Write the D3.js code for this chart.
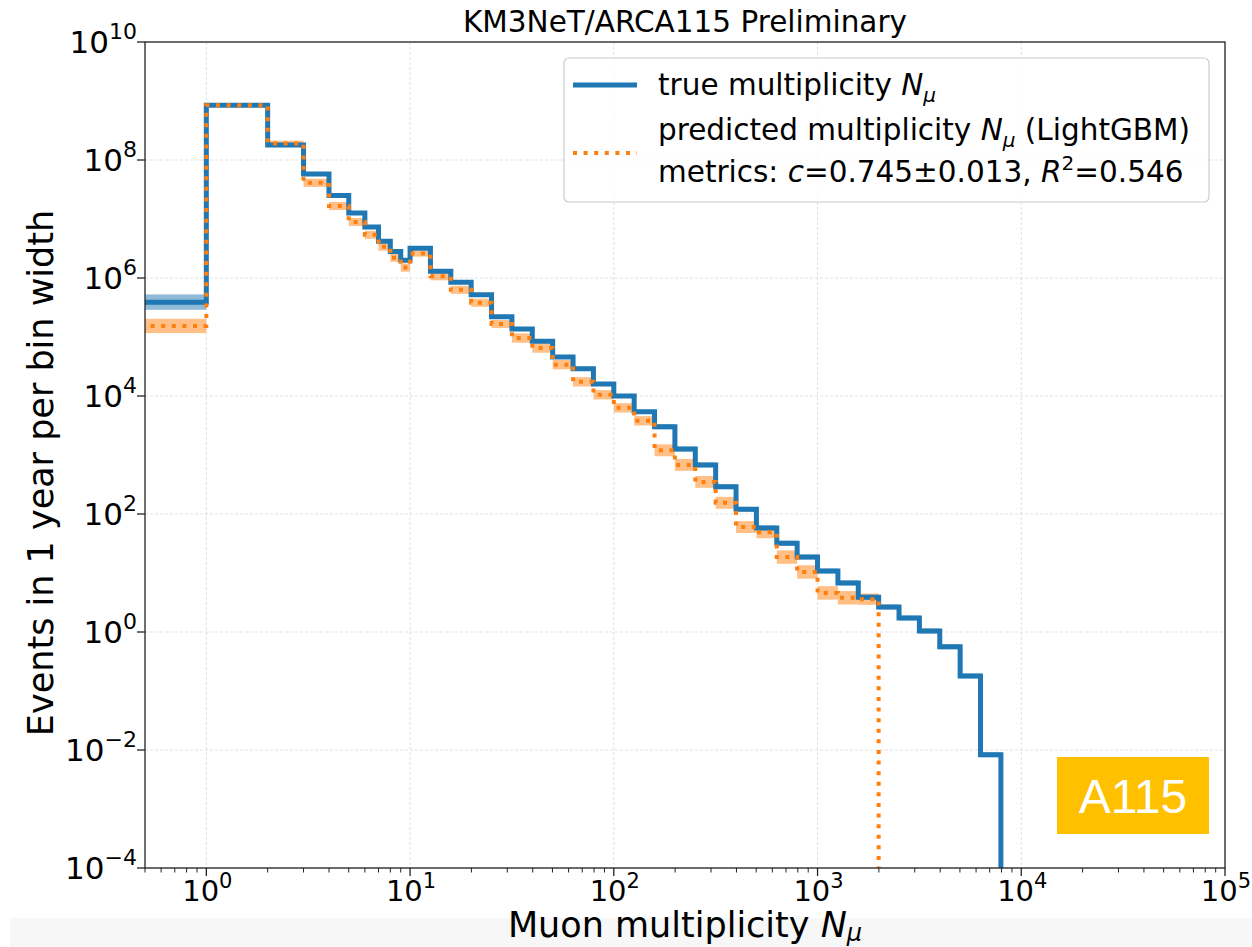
<!DOCTYPE html>
<html><head><meta charset="utf-8">
<script src="https://cdn.jsdelivr.net/npm/d3@7"></script>
<style>
body{margin:0;background:#fff;}
text{font-family:"DejaVu Sans",sans-serif;}
</style></head>
<body><svg id="c" width="1252" height="947"></svg>
<script>
// ---- data ----
const binEdges = [0.5,1,2,3,4,5,6,7,8,9,10,12.59,15.85,19.95,25.12,31.62,39.81,50.12,63.10,79.43,
  100,125.9,158.5,199.5,251.2,316.2,398.1,501.2,631.0,794.3,1000,1259,1585,1995,2512,3162,3981,5012,6310,7943];
const trueCounts = [3.9e5,8.5e8,1.8e8,5.8e7,2.5e7,1.26e7,7.3e6,4.2e6,2.8e6,2.0e6,3.2e6,1.3e6,8.5e5,5.2e5,2.2e5,
  1.37e5,8.5e4,4.6e4,2.9e4,1.6e4,1.0e4,5.4e3,3.0e3,1.26e3,6.8e2,2.9e2,1.2e2,58,32,18.6,10.8,6.8,3.9,2.65,1.73,1.04,0.56,0.18,8.3e-3];
const trueRelErr = [0.35,0.03,0.03,0.05,0.05,0.05,0.05,0.06,0.06,0.06,0.06,0.06,0.06,0.06,0.06,
  0.07,0.07,0.07,0.08,0.08,0.08,0.08,0.1,0.1,0.1,0.1,0.1,0.1,0.1,0.1,0.1,0.1,0.1,0.1,0.1,0.1,0.1,0.1,0.1];
const predCounts = [1.54e5,8.5e8,1.9e8,4.1e7,1.66e7,8.9e6,5.4e6,3.4e6,2.2e6,1.5e6,2.6e6,1.07e6,6.3e5,3.8e5,1.66e5,
  9.6e4,6.5e4,3.4e4,1.74e4,1.05e4,6.3e3,3.8e3,1.2e3,6.8e2,3.5e2,1.55e2,60,49,18.6,10.4,4.6,3.8,3.6];
const predRelErr = [0.32,0.05,0.12,0.17,0.17,0.17,0.17,0.17,0.17,0.17,0.13,0.17,0.17,0.17,0.17,
  0.2,0.2,0.2,0.2,0.2,0.2,0.2,0.26,0.26,0.26,0.26,0.26,0.26,0.3,0.3,0.3,0.3,0.25];
const xTicks = [1,10,100,1000,10000,100000];
const xTickExp = ["0","1","2","3","4","5"];
const yTicks = [1e10,1e8,1e6,1e4,1e2,1,1e-2,1e-4];
const yTickExp = ["10","8","6","4","2","0","\u22122","\u22124"];

// ---- layout ----
const svg = d3.select("#c");
const L=145, R=1225, T=42, B=868;
const x = d3.scaleLog().domain([0.5,1e5]).range([L,R]);
const y = d3.scaleLog().domain([1e-4,1e10]).range([B,T]);
const blue="#1f77b4", orange="#ff7f0e";

svg.append("rect").attr("x",10).attr("y",918).attr("width",1242).attr("height",29).attr("fill","#f7f7f7");

svg.append("defs").append("clipPath").attr("id","clip")
  .append("rect").attr("x",L).attr("y",T).attr("width",R-L).attr("height",B-T);

// grid
const g = svg.append("g");
g.selectAll(".gx").data(xTicks).join("line")
  .attr("x1",d=>x(d)).attr("x2",d=>x(d)).attr("y1",T).attr("y2",B)
  .attr("stroke","#d9d9d9").attr("stroke-width",0.8).attr("stroke-dasharray","3,2");
g.selectAll(".gy").data(yTicks).join("line")
  .attr("y1",d=>y(d)).attr("y2",d=>y(d)).attr("x1",L).attr("x2",R)
  .attr("stroke","#d9d9d9").attr("stroke-width",0.8).attr("stroke-dasharray","3,2");

const plot = svg.append("g").attr("clip-path","url(#clip)");

function bands(counts, errs, color){
  plot.append("g").selectAll("rect").data(counts).join("rect")
    .attr("x",(d,i)=>x(binEdges[i]))
    .attr("width",(d,i)=>x(binEdges[i+1])-x(binEdges[i]))
    .attr("y",(d,i)=>y(d*(1+errs[i])))
    .attr("height",(d,i)=>y(d/(1+errs[i]))-y(d*(1+errs[i])))
    .attr("fill",color).attr("opacity",0.5);
}
function stepPath(counts){
  const p = d3.path();
  p.moveTo(x(binEdges[0])-5, y(counts[0]));
  counts.forEach((d,i)=>{
    p.lineTo(x(binEdges[i]), y(d));
    p.lineTo(x(binEdges[i+1]), y(d));
  });
  p.lineTo(x(binEdges[counts.length]), B+20);
  return p.toString();
}
bands(trueCounts,trueRelErr,blue);
bands(predCounts,predRelErr,orange);
plot.append("path").attr("d",stepPath(trueCounts)).attr("fill","none")
  .attr("stroke",blue).attr("stroke-width",5).attr("stroke-linejoin","miter");
plot.append("path").attr("d",stepPath(predCounts)).attr("fill","none")
  .attr("stroke",orange).attr("stroke-width",4).attr("stroke-dasharray","4,6.6");

// frame
svg.append("rect").attr("x",L).attr("y",T).attr("width",R-L).attr("height",B-T)
  .attr("fill","none").attr("stroke","#222").attr("stroke-width",1.3);

// x ticks
const xMinor = [];
[0.1,1,10,100,1000,10000].forEach(dec=>{for(let k=2;k<=9;k++){const v=dec*k; if(v>=0.5&&v<1e5) xMinor.push(v);}});
svg.append("g").selectAll("line").data(xMinor).join("line")
  .attr("x1",d=>x(d)).attr("x2",d=>x(d)).attr("y1",B).attr("y2",B+4.5).attr("stroke","#222").attr("stroke-width",1);
svg.append("g").selectAll("line").data(xTicks).join("line")
  .attr("x1",d=>x(d)).attr("x2",d=>x(d)).attr("y1",B).attr("y2",B+8).attr("stroke","#222").attr("stroke-width",1.3);
const xt = svg.append("g").selectAll("text").data(xTicks).join("text")
  .attr("x",d=>x(d)+1).attr("y",B+33).attr("text-anchor","middle").attr("font-size",29).attr("fill","#000");
xt.append("tspan").text("10");
xt.append("tspan").attr("dy",-13).attr("font-size",21).text((d,i)=>xTickExp[i]);

// y ticks
svg.append("g").selectAll("line").data(yTicks).join("line")
  .attr("x1",L-8).attr("x2",L).attr("y1",d=>y(d)).attr("y2",d=>y(d)).attr("stroke","#222").attr("stroke-width",1.3);
const yt = svg.append("g").selectAll("text").data(yTicks).join("text")
  .attr("x",L-8).attr("y",d=>y(d)+11).attr("text-anchor","end").attr("font-size",31).attr("fill","#000");
yt.append("tspan").text("10");
yt.append("tspan").attr("dy",-14).attr("font-size",22).text((d,i)=>yTickExp[i]);

// labels
svg.append("text").attr("x",(L+R)/2).attr("y",32).attr("text-anchor","middle").attr("font-size",29.5)
  .text("KM3NeT/ARCA115 Preliminary");
const xl = svg.append("text").attr("x",(L+R)/2).attr("y",937).attr("text-anchor","middle").attr("font-size",35);
xl.append("tspan").text("Muon multiplicity ");
xl.append("tspan").attr("font-style","italic").text("N");
xl.append("tspan").attr("font-style","italic").attr("font-size",24).attr("dy",4).text("\u03bc");
svg.append("text").attr("transform",`translate(53,473) rotate(-90)`).attr("text-anchor","middle")
  .attr("font-size",35).text("Events in 1 year per bin width");

// legend
const lg = svg.append("g");
lg.append("rect").attr("x",564).attr("y",58).attr("width",645).attr("height",144).attr("rx",5)
  .attr("fill","#fff").attr("fill-opacity",0.8).attr("stroke","#cccccc").attr("stroke-width",1.2);
lg.append("line").attr("x1",573).attr("x2",637).attr("y1",85).attr("y2",85).attr("stroke",blue).attr("stroke-width",5);
lg.append("line").attr("x1",573).attr("x2",637).attr("y1",153).attr("y2",153).attr("stroke",orange).attr("stroke-width",4).attr("stroke-dasharray","4,6.6");
function nmu(t){
  t.append("tspan").attr("font-style","italic").text("N");
  t.append("tspan").attr("font-style","italic").attr("font-size",20).attr("dy",7).text("\u03bc");
}
const fs = 29.5;
const t1 = lg.append("text").attr("x",658).attr("y",95).attr("font-size",fs);
t1.append("tspan").text("true multiplicity ");
nmu(t1);
const t2 = lg.append("text").attr("x",658).attr("y",140).attr("font-size",fs);
t2.append("tspan").text("predicted multiplicity ");
nmu(t2);
t2.append("tspan").attr("dy",-7).text(" (LightGBM)");
const t3 = lg.append("text").attr("x",658).attr("y",182).attr("font-size",fs);
t3.append("tspan").text("metrics: ");
t3.append("tspan").attr("font-style","italic").text("c");
t3.append("tspan").text("=0.745\u00b10.013, ");
t3.append("tspan").attr("font-style","italic").text("R");
t3.append("tspan").attr("font-size",20).attr("dy",-12).text("2");
t3.append("tspan").attr("dy",12).text("=0.546");

// A115 badge
svg.append("rect").attr("x",1057).attr("y",757).attr("width",152).attr("height",77).attr("fill","#ffc000");
svg.append("text").attr("x",1133).attr("y",813).attr("text-anchor","middle").attr("fill","#fff")
  .style("font-family","'Liberation Sans', Arial, sans-serif").attr("font-size",48).text("A115");
</script></body></html>
